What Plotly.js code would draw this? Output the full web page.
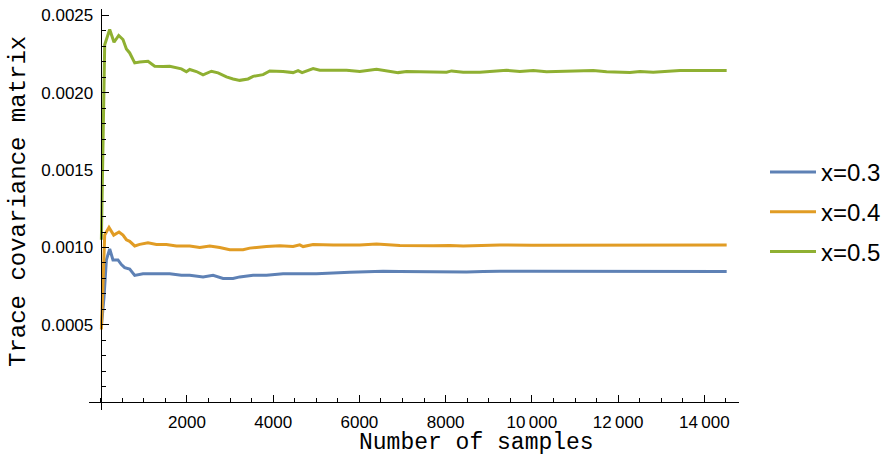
<!DOCTYPE html>
<html>
<head>
<meta charset="utf-8">
<script src="https://cdn.plot.ly/plotly-3.0.1.min.js"></script>
<style>
  html, body { margin: 0; padding: 0; background: #fff; }
  #chart { width: 889px; height: 456px; }
</style>
</head>
<body>
<div id="chart"></div>
<script>
// Running trace of the covariance matrix versus number of samples, for three x values.
const seriesNames = ['x=0.3', 'x=0.4', 'x=0.5'];
const seriesColors = ['#5E81B5', '#E19C24', '#8FB032'];

const samples03 = [16, 77, 132, 209, 285, 401, 480, 557, 673, 789, 981, 1292, 1601, 1872, 2065, 2374, 2606, 2838, 3070, 3225, 3534, 3845, 4230, 4617, 5005, 5777, 6165, 6550, 6937, 7710, 8097, 8485, 8870, 9258, 10000, 11000, 12000, 13000, 14000, 14517];
const trace03 = [0.00049, 0.00068, 0.00092, 0.00099, 0.00092, 0.00092, 0.00089, 0.00087, 0.00086, 0.00082, 0.00083, 0.00083, 0.00083, 0.00082, 0.00082, 0.00081, 0.00082, 0.00080, 0.00080, 0.00081, 0.00082, 0.00082, 0.00083, 0.00083, 0.00083, 0.00084, 0.000845, 0.000847, 0.000845, 0.000843, 0.000845, 0.000841, 0.000845, 0.000847, 0.000846, 0.000846, 0.000845, 0.000843, 0.000844, 0.000845];

const samples04 = [16, 93, 132, 193, 302, 425, 517, 596, 673, 789, 905, 1097, 1292, 1524, 1756, 2065, 2297, 2529, 2761, 2993, 3302, 3457, 3845, 4153, 4462, 4617, 4694, 4926, 5390, 6009, 6397, 6629, 6937, 7710, 8097, 8406, 8870, 9258, 10000, 11000, 12000, 13000, 14000, 14517];
const trace04 = [0.00047, 0.00108, 0.00110, 0.00113, 0.00108, 0.00110, 0.00108, 0.00105, 0.00104, 0.00101, 0.00102, 0.00103, 0.00102, 0.00102, 0.00101, 0.00101, 0.00100, 0.00101, 0.00100, 0.000985, 0.000985, 0.000996, 0.001006, 0.001011, 0.001006, 0.001017, 0.001006, 0.001019, 0.001016, 0.001016, 0.001022, 0.001018, 0.001013, 0.001011, 0.001013, 0.001009, 0.001013, 0.001016, 0.001015, 0.001016, 0.001015, 0.001014, 0.001015, 0.001016];

const samples05 = [16, 50, 93, 209, 309, 418, 517, 596, 673, 789, 905, 1097, 1253, 1445, 1601, 1872, 1988, 2065, 2220, 2374, 2568, 2722, 2916, 3070, 3225, 3418, 3534, 3766, 3921, 4230, 4462, 4578, 4671, 4926, 5081, 5701, 6009, 6397, 6705, 6898, 7093, 8021, 8137, 8406, 8794, 9413, 9722, 10030, 10341, 11114, 11422, 11733, 12274, 12506, 12814, 13434, 13898, 14517];
const trace05 = [0.00105, 0.00175, 0.00231, 0.002408, 0.002326, 0.00237, 0.002344, 0.002283, 0.002257, 0.002193, 0.002199, 0.002203, 0.002171, 0.00217, 0.002171, 0.002154, 0.002135, 0.00215, 0.002137, 0.002115, 0.002139, 0.002128, 0.002102, 0.002089, 0.00208, 0.002089, 0.002106, 0.002117, 0.002141, 0.002137, 0.00213, 0.002143, 0.00213, 0.002156, 0.002145, 0.002145, 0.002137, 0.002152, 0.002137, 0.00213, 0.002137, 0.002133, 0.002141, 0.002133, 0.002133, 0.002145, 0.002137, 0.002143, 0.002135, 0.002139, 0.002143, 0.002135, 0.00213, 0.002137, 0.002133, 0.002143, 0.002145, 0.002143];

const xTickVals = [2000, 4000, 6000, 8000, 10000, 12000, 14000];
const xTickText = ['2000', '4000', '6000', '8000', '10\u2009000', '12\u2009000', '14\u2009000'];
const yTickVals = [0.0005, 0.0010, 0.0015, 0.0020, 0.0025];
const yTickText = ['0.0005', '0.0010', '0.0015', '0.0020', '0.0025'];

const xRange = [-271, 14803];
const yRange = [-0.00005, 0.002541];

const xs = [samples03, samples04, samples05];
const ys = [trace03, trace04, trace05];

const traces = seriesNames.map((name, i) => ({
  type: 'scatter',
  mode: 'lines',
  name: name,
  legendgroup: 'g' + i,
  x: xs[i],
  y: ys[i],
  line: { color: seriesColors[i], width: 3 },
  hoverinfo: 'skip'
}));

const tickFont = { family: 'Liberation Sans, Arial, sans-serif', size: 17, color: '#000' };
const titleFont = { family: 'Liberation Mono, DejaVu Sans Mono, monospace', size: 24, color: '#000' };

// axes cross at the origin
const xAxisPos = (0 - yRange[0]) / (yRange[1] - yRange[0]);
const yAxisPos = (0 - xRange[0]) / (xRange[1] - xRange[0]);

const layout = {
  width: 889,
  height: 456,
  margin: { l: 89, r: 150, t: 9, b: 46, pad: 0 },
  paper_bgcolor: '#fff',
  plot_bgcolor: '#fff',
  showlegend: true,
  legend: {
    xref: 'container', yref: 'container',
    x: 765 / 889, y: 1 - 150 / 456,
    xanchor: 'left', yanchor: 'top',
    font: { family: 'Liberation Sans, Arial, sans-serif', size: 24, color: '#000' },
    itemwidth: 46,
    tracegroupgap: 5.5,
    bgcolor: 'rgba(0,0,0,0)'
  },
  xaxis: {
    range: xRange,
    anchor: 'free',
    position: xAxisPos,
    showline: true, linecolor: '#000', linewidth: 1,
    showgrid: false, zeroline: false,
    ticks: 'inside', ticklen: 7, tickwidth: 1, tickcolor: '#000',
    tickmode: 'array', tickvals: xTickVals, ticktext: xTickText,
    ticklabelstandoff: 4,
    tickfont: tickFont,
    minor: { dtick: 500, tick0: 0, ticks: 'inside', ticklen: 4, tickwidth: 1, tickcolor: '#000', showgrid: false }
  },
  yaxis: {
    range: yRange,
    anchor: 'free',
    position: yAxisPos,
    showline: true, linecolor: '#000', linewidth: 1,
    showgrid: false, zeroline: false,
    ticks: 'inside', ticklen: 7, tickwidth: 1, tickcolor: '#000',
    tickmode: 'array', tickvals: yTickVals, ticktext: yTickText,
    ticklabelstandoff: 4,
    tickfont: tickFont,
    minor: { dtick: 0.0001, tick0: 0, ticks: 'inside', ticklen: 4, tickwidth: 1, tickcolor: '#000', showgrid: false }
  },
  annotations: [
    {
      text: 'Number of samples',
      xref: 'paper', yref: 'paper',
      x: (476 - 89) / 650, y: (410 - 443) / 401,
      xanchor: 'center', yanchor: 'middle',
      showarrow: false, font: Object.assign({}, titleFont, { size: 23 })
    },
    {
      text: 'Trace covariance matrix',
      xref: 'paper', yref: 'paper',
      x: (18 - 89) / 650, y: (410 - 202) / 401,
      xanchor: 'center', yanchor: 'middle',
      textangle: -90,
      showarrow: false, font: titleFont
    }
  ]
};

Plotly.newPlot('chart', traces, layout, { staticPlot: true, displayModeBar: false });
</script>
</body>
</html>
